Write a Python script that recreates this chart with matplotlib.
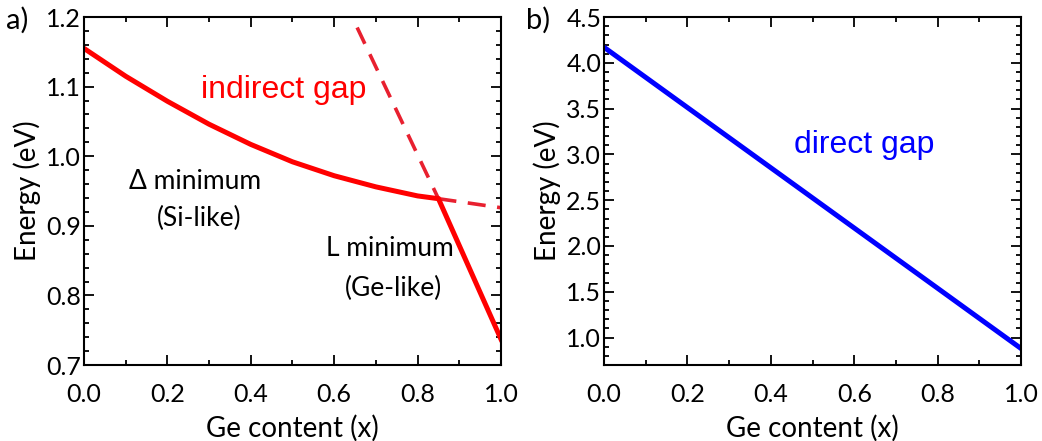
import numpy as np
import matplotlib
matplotlib.use('Agg')
from matplotlib import pyplot as plt
from matplotlib.ticker import MultipleLocator

plt.rcParams['font.family'] = ['Lato', 'DejaVu Sans']

# panel a: indirect gap (solid = lowest band edge)
x_ind = [0.0, 0.1, 0.2, 0.3, 0.4, 0.5, 0.6, 0.7, 0.8, 0.85, 1.0]
e_ind = [1.155, 1.115, 1.079, 1.046, 1.017, 0.992, 0.972, 0.956, 0.943, 0.939, 0.737]
# dashed continuations
x_L_dash = [0.655, 0.85]
e_L_dash = [1.185, 0.939]
x_D_dash = [0.85, 1.0]
e_D_dash = [0.939, 0.926]

# panel b: direct gap
x_dir = [0.0, 1.0]
e_dir = [4.17, 0.88]

red = '#ff0000'
dred = '#e8202f'
blue = '#0000ff'

fig = plt.figure(figsize=(10.42, 4.41), dpi=100)
ax1 = fig.add_axes([0.0806, 0.1723, 0.4002, 0.789])
ax2 = fig.add_axes([0.5797, 0.1723, 0.4002, 0.789])

ax1.plot(x_L_dash, e_L_dash, '--', color=dred, lw=2.6, dashes=(5, 3.2))
ax1.plot(x_D_dash, e_D_dash, '--', color=dred, lw=2.6, dashes=(5, 3.2))
ax1.plot(x_ind, e_ind, '-', color=red, lw=3.6, solid_joinstyle='miter')
ax1.set_xlim(0, 1)
ax1.set_ylim(0.7, 1.2)
ax1.yaxis.set_major_locator(MultipleLocator(0.1))
ax1.yaxis.set_minor_locator(MultipleLocator(0.02))

ax1.text(0.48, 1.095, 'indirect gap', color=red, fontsize=23, ha='center', va='center',
         family=['Liberation Sans'])
ax1.text(0.266, 0.963, '\u0394 minimum', fontsize=19, ha='center', va='center')
ax1.text(0.276, 0.911, '(Si-like)', fontsize=19, ha='center', va='center')
ax1.text(0.734, 0.867, 'L minimum', fontsize=19, ha='center', va='center')
ax1.text(0.742, 0.810, '(Ge-like)', fontsize=19, ha='center', va='center')

ax2.plot(x_dir, e_dir, '-', color=blue, lw=3.6)
ax2.set_xlim(0, 1)
ax2.set_ylim(0.7, 4.5)
ax2.yaxis.set_major_locator(MultipleLocator(0.5))
ax2.yaxis.set_minor_locator(MultipleLocator(0.1))
ax2.text(0.625, 3.1, 'direct gap', color=blue, fontsize=23, ha='center', va='center',
         family=['Liberation Sans'])

for ax in (ax1, ax2):
    ax.xaxis.set_major_locator(MultipleLocator(0.2))
    ax.xaxis.set_minor_locator(MultipleLocator(0.1))
    ax.tick_params(which='both', direction='in', top=True, right=True, width=1.3)
    ax.tick_params(which='major', length=7, labelsize=18)
    ax.tick_params(which='minor', length=3.5)
    ax.tick_params(axis='x', pad=13)
    ax.tick_params(axis='y', pad=2)
    for s in ax.spines.values():
        s.set_linewidth(1.5)
    ax.set_xlabel('Ge content (x)', fontsize=20, labelpad=6)
    ax.set_ylabel('Energy (eV)', fontsize=20, labelpad=4)

fig.text(0.006, 0.955, 'a)', fontsize=21, va='center')
fig.text(0.505, 0.955, 'b)', fontsize=21, va='center')

fig.savefig('out.png', dpi=100)
